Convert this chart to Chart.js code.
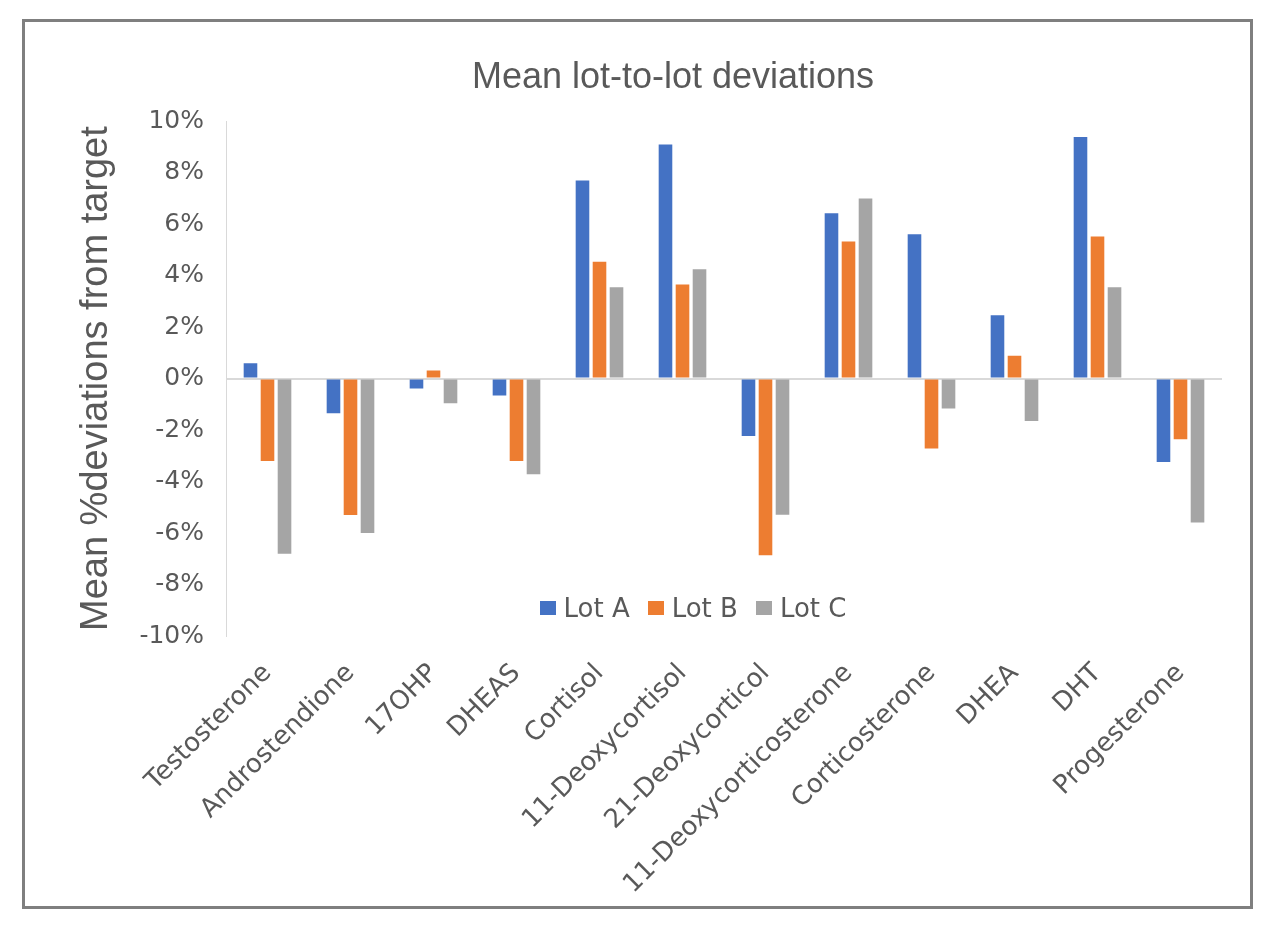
<!DOCTYPE html>
<html>
<head>
<meta charset="utf-8">
<script src="https://cdn.jsdelivr.net/npm/chart.js@4/dist/chart.umd.min.js"></script>
<style>
  body { margin: 0; background: #fff; }
  #frame {
    position: absolute; left: 22px; top: 19px; width: 1231px; height: 890px;
    box-sizing: border-box; border: 3px solid #7f7f7f;
  }
  #wrap { position: absolute; left: 66px; top: 22px; width: 1214px; height: 885px; }
  #legend {
    position: absolute; left: 436px; top: 592px; width: 514px; height: 32px;
    display: flex; justify-content: center; align-items: center;
    font-family: "DejaVu Sans", sans-serif; font-size: 26px; color: #595959;
  }
  #legend span.box { display: inline-block; width: 16px; height: 14px; margin: 0 8px 0 0; }
  #legend span.item { display: flex; align-items: center; margin: 0 9px; }
</style>
</head>
<body>
<div id="frame"></div>
<div id="wrap"><canvas id="myChart"></canvas></div>
<div id="legend"></div>
<script>
// categories and values (percent)
var categories = ['Testosterone', 'Androstendione', '17OHP', 'DHEAS', 'Cortisol', '11-Deoxycortisol',
  '21-Deoxycorticol', '11-Deoxycorticosterone', 'Corticosterone', 'DHEA', 'DHT', 'Progesterone'];
var lotA = [0.6, -1.35, -0.38, -0.66, 7.7, 9.09, -2.23, 6.42, 5.61, 2.46, 9.39, -3.24];
var lotB = [-3.2, -5.3, 0.31, -3.2, 4.54, 3.66, -6.86, 5.33, -2.72, 0.89, 5.52, -2.36];
var lotC = [-6.8, -6.0, -0.96, -3.72, 3.55, 4.25, -5.29, 7.0, -1.16, -1.65, 3.55, -5.59];
var seriesNames = ['Lot A', 'Lot B', 'Lot C'];
var seriesColors = ['#4472C4', '#ED7D31', '#A5A5A5'];

var textColor = '#595959';

var datasets = [lotA, lotB, lotC].map(function (vals, i) {
  return {
    label: seriesNames[i],
    data: vals,
    backgroundColor: seriesColors[i],
    barPercentage: 0.8,
    categoryPercentage: 0.615
  };
});

// the title is centred on the whole canvas, not only left of the right padding
var titleSpan = {
  id: 'titleSpan',
  afterLayout: function (chart) {
    if (chart.titleBlock) {
      chart.titleBlock.left = 0;
      chart.titleBlock.right = chart.width;
    }
  }
};

var ctx = document.getElementById('myChart').getContext('2d');
var myChart = new Chart(ctx, {
  type: 'bar',
  data: { labels: categories, datasets: datasets },
  plugins: [titleSpan],
  options: {
    responsive: true,
    maintainAspectRatio: false,
    animation: false,
    layout: { padding: { left: 0, right: 58, top: 0, bottom: 0 } },
    plugins: {
      legend: { display: false },
      tooltip: { enabled: false },
      title: {
        display: true,
        text: 'Mean lot-to-lot deviations',
        color: textColor,
        font: { family: '"Liberation Sans", Arial, sans-serif', size: 36, weight: 'normal' },
        padding: { top: 34, bottom: 22 }
      }
    },
    scales: {
      x: {
        grid: { display: false },
        border: { display: false },
        ticks: {
          color: textColor,
          font: { family: '"DejaVu Sans", sans-serif', size: 26 },
          maxRotation: 45,
          minRotation: 45,
          autoSkip: false,
          padding: 14
        },
        afterFit: function (scale) { scale.height = 271; }
      },
      y: {
        min: -10,
        max: 10,
        ticks: {
          stepSize: 2,
          color: textColor,
          font: { family: '"DejaVu Sans", sans-serif', size: 25 },
          padding: 22,
          callback: function (v) { return v + '%'; }
        },
        grid: {
          drawTicks: false,
          color: function (c) { return c.tick && c.tick.value === 0 ? '#d9d9d9' : 'rgba(0,0,0,0)'; },
          lineWidth: 2
        },
        border: { display: true, color: '#d9d9d9', width: 1 },
        title: {
          display: true,
          text: 'Mean %deviations from target',
          color: textColor,
          font: { family: '"Liberation Sans", Arial, sans-serif', size: 38 },
          padding: { top: 8, bottom: 0 }
        },
        afterFit: function (scale) { scale.width = 160; }
      }
    }
  }
});

// legend built from the datasets, placed inside the plot like the original
var legendDiv = document.getElementById('legend');
datasets.forEach(function (ds) {
  legendDiv.innerHTML += '<span class="item"><span class="box" style="background:' +
    ds.backgroundColor + '"></span>' + ds.label + '</span>';
});
</script>
</body>
</html>
